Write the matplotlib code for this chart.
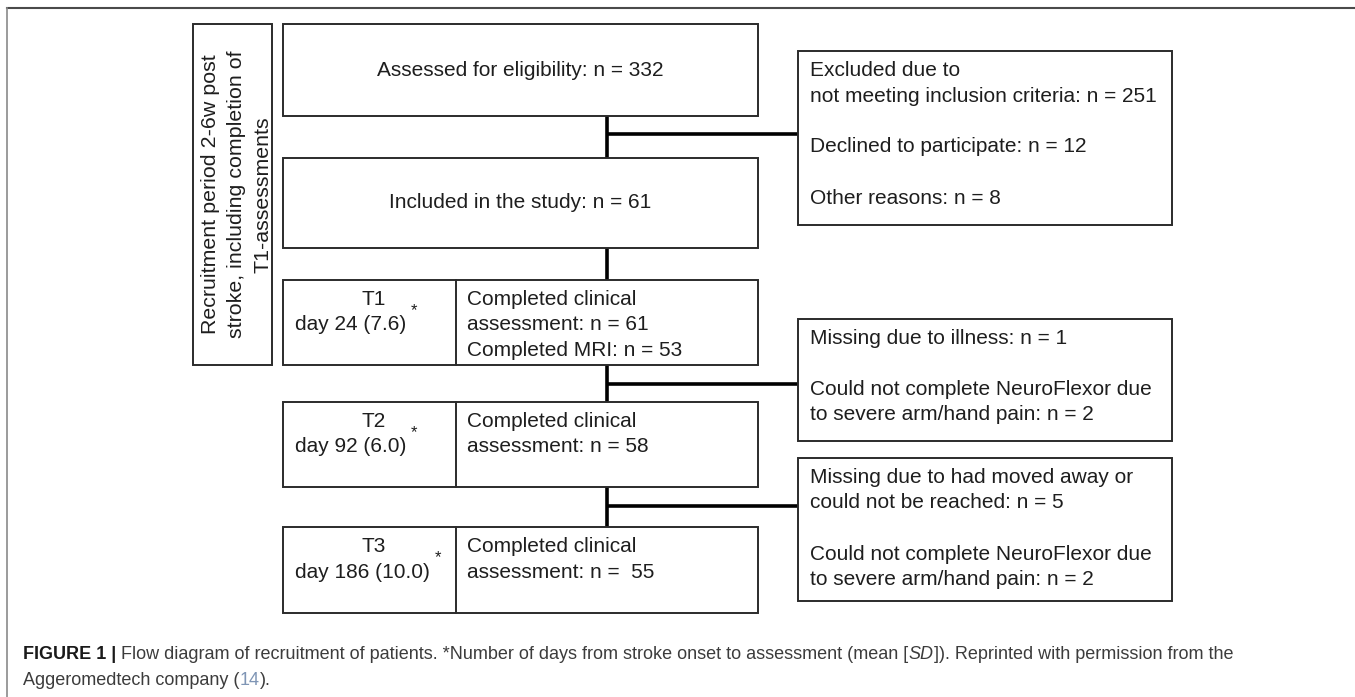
import matplotlib
matplotlib.use("Agg")
import matplotlib.pyplot as plt
from matplotlib.patches import Rectangle

plt.rcParams["font.family"] = ["Liberation Sans", "DejaVu Sans"]

# ── numbers shown in the flow diagram ─────────────────────────────────────────
N_ASSESSED = 332
N_INCLUDED = 61
EXCLUDED_N = [251, 12, 8]

TIMEPOINTS = ["T1", "T2", "T3"]
DAY_MEAN = ["24", "92", "186"]
DAY_SD = ["7.6", "6.0", "10.0"]
N_CLINICAL = [61, 58, 55]
N_MRI = [53, None, None]

LOST_T1_T2 = [1, 2]      # illness, NeuroFlexor pain
LOST_T2_T3 = [5, 2]      # moved away / unreachable, NeuroFlexor pain

SIDE_LABEL = ["Recruitment period 2-6w post",
              "stroke, including completion of",
              "T1-assessments"]

# ── layout (pixel coordinates, y downwards) ───────────────────────────────────
W, H = 1355, 697
MAIN_X0, MAIN_X1, DIV_X = 283, 758, 456
SIDE_X0, SIDE_X1 = 798, 1172
STEM_X = 607
LINE0, STEP = 19.5, 25.5
TXT = "#1e1e1e"
EDGE = "#2b2b2b"
FS = 15
CAP_FS = 13.0

fig = plt.figure(figsize=(W / 100, H / 100), dpi=100)
ax = fig.add_axes([0, 0, 1, 1])
ax.set_xlim(0, W)
ax.set_ylim(H, 0)
ax.axis("off")
renderer = fig.canvas.get_renderer()


def box(x0, y0, x1, y1):
    ax.add_patch(Rectangle((x0, y0), x1 - x0, y1 - y0, fill=False,
                           lw=1.4, ec=EDGE, zorder=3))


def lines_in(x, top, lines, ha="left"):
    for i, s in enumerate(lines):
        if s:
            ax.text(x, top + LINE0 + i * STEP, s, ha=ha, va="center",
                    fontsize=FS, color=TXT)


def connector(xs, ys):
    ax.plot(xs, ys, color="black", lw=2.6, solid_capstyle="butt", zorder=2)


def text_width(s, **kw):
    t = ax.text(0, 0, s, **kw)
    w = t.get_window_extent(renderer=renderer).width
    t.remove()
    return w


# outer frame (top + left edges visible)
ax.plot([7, W], [8, 8], color="#4a4a4a", lw=1.5)
ax.plot([7, 7], [8, H], color="#8a8a8a", lw=1.2)

# vertical recruitment label
box(193, 24, 272, 365)
for i, s in enumerate(SIDE_LABEL):
    ax.text(211 + i * 26, 194.5, s, rotation=90, ha="center", va="center",
            fontsize=15.4, color=TXT)

# assessed / included
box(MAIN_X0, 24, MAIN_X1, 116)
ax.text((MAIN_X0 + MAIN_X1) / 2, 70, f"Assessed for eligibility: n = {N_ASSESSED}",
        ha="center", va="center", fontsize=FS, color=TXT)
box(MAIN_X0, 158, MAIN_X1, 248)
ax.text((MAIN_X0 + MAIN_X1) / 2, 203, f"Included in the study: n = {N_INCLUDED}",
        ha="center", va="center", fontsize=FS, color=TXT)

# excluded box
box(SIDE_X0, 51, SIDE_X1, 225)
lines_in(810, 51, ["Excluded due to",
                   f"not meeting inclusion criteria: n = {EXCLUDED_N[0]}", "",
                   f"Declined to participate: n = {EXCLUDED_N[1]}", "",
                   f"Other reasons: n = {EXCLUDED_N[2]}"])

# timepoint rows
t_tops = [280, 402, 527]
t_bots = [365, 487, 613]
for k, tp in enumerate(TIMEPOINTS):
    top, bot = t_tops[k], t_bots[k]
    box(MAIN_X0, top, MAIN_X1, bot)
    ax.plot([DIV_X, DIV_X], [top, bot], color=EDGE, lw=1.4, zorder=3)
    ax.text(374, top + LINE0, tp, ha="center", va="center", fontsize=FS, color=TXT)
    day = f"day {DAY_MEAN[k]} ({DAY_SD[k]})"
    ax.text(295, top + LINE0 + STEP, day, ha="left", va="center",
            fontsize=FS, color=TXT)
    ax.text(295 + text_width(day, fontsize=FS) + 8, top + LINE0 + STEP - 14, "*",
            ha="center", va="center", fontsize=12, color=TXT)
    gap = " " if k < 2 else "  "
    right = ["Completed clinical", f"assessment: n ={gap}{N_CLINICAL[k]}"]
    if N_MRI[k] is not None:
        right.append(f"Completed MRI: n = {N_MRI[k]}")
    lines_in(467, top, right)

# losses between timepoints
box(SIDE_X0, 319, SIDE_X1, 441)
lines_in(810, 319, [f"Missing due to illness: n = {LOST_T1_T2[0]}", "",
                    "Could not complete NeuroFlexor due",
                    f"to severe arm/hand pain: n = {LOST_T1_T2[1]}"])
box(SIDE_X0, 458, SIDE_X1, 601)
lines_in(810, 458, ["Missing due to had moved away or",
                    f"could not be reached: n = {LOST_T2_T3[0]}", "",
                    "Could not complete NeuroFlexor due",
                    f"to severe arm/hand pain: n = {LOST_T2_T3[1]}"])

# stem + branches
for y0, y1 in [(116, 158), (248, 280), (365, 402), (487, 527)]:
    connector([STEM_X, STEM_X], [y0, y1])
for yb in [134, 384, 506]:
    connector([STEM_X, SIDE_X0], [yb, yb])


# caption, drawn in runs so bold / italic / coloured parts line up
def runs(x, y, parts):
    for s, kw in parts:
        ax.text(x, y, s, ha="left", va="baseline", fontsize=CAP_FS, **kw)
        x += text_width(s, fontsize=CAP_FS, **kw)
    return x


reg = dict(color="#3c3c3c")
sp = text_width("a a", fontsize=CAP_FS) - text_width("aa", fontsize=CAP_FS)
x = runs(23, 659, [("FIGURE 1 |", dict(color="#1a1a1a", fontweight="bold"))])
runs(x + sp, 659,
     [("Flow diagram of recruitment of patients. *Number of days from stroke onset to assessment (mean [", reg),
      ("SD", dict(color="#3c3c3c", fontstyle="italic")),
      ("]). Reprinted with permission from the", reg)])
runs(23, 685, [("Aggeromedtech company (", reg),
               ("14", dict(color="#7f95b5")),
               (").", reg)])

fig.savefig("out.png", dpi=100)
